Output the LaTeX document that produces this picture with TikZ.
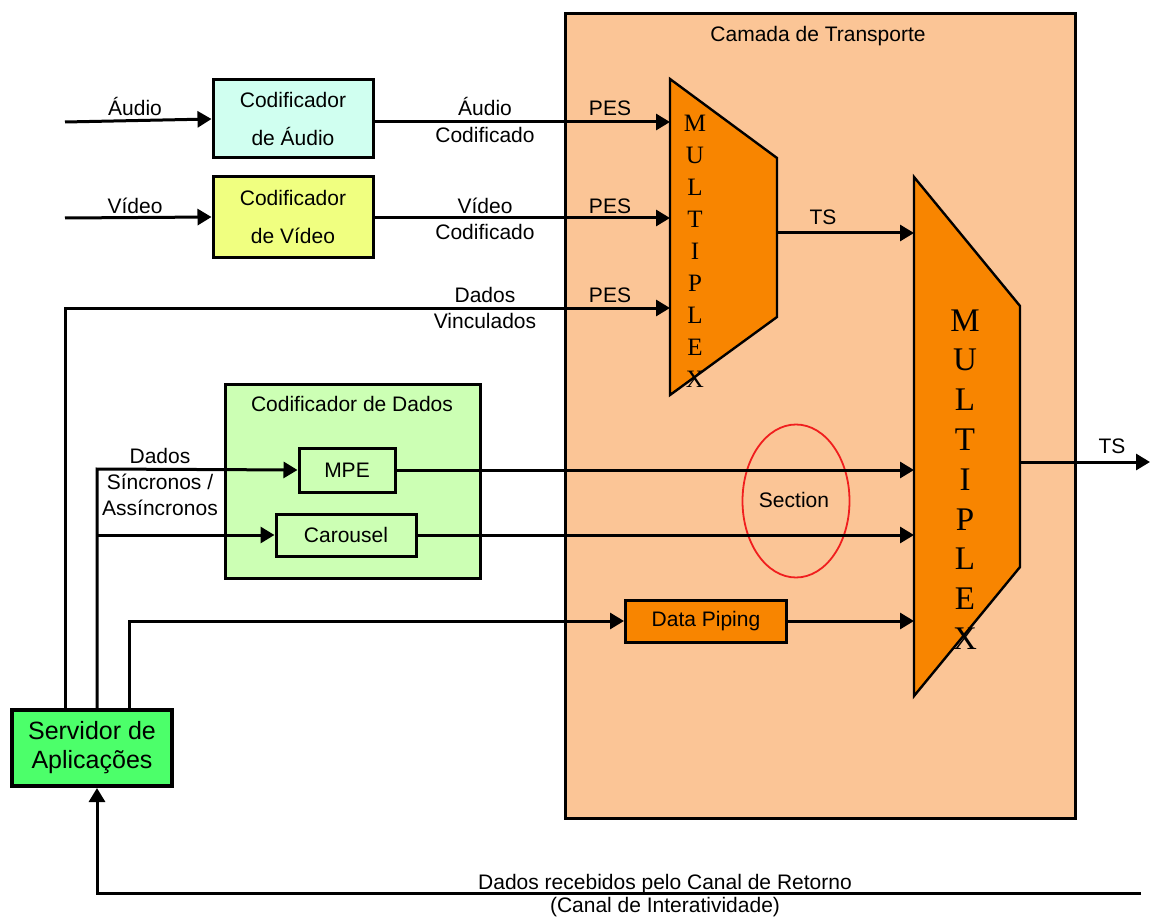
\documentclass[tikz,border=0pt]{standalone}
\usepackage{fontspec}
\setmainfont{Liberation Sans}
\newfontfamily\muxfont{Liberation Serif}
\usetikzlibrary{arrows.meta,shapes.geometric}
\definecolor{peach}{RGB}{251,197,150}
\definecolor{acyan}{RGB}{208,255,240}
\definecolor{vyellow}{RGB}{240,255,128}
\definecolor{dgreen}{RGB}{204,255,180}
\definecolor{muxorange}{RGB}{248,133,0}
\definecolor{srvgreen}{RGB}{76,255,106}
\definecolor{secred}{RGB}{240,30,30}
\newcommand\lblfont{\fontsize{21}{25}\selectfont}
\begin{document}
\begin{tikzpicture}[x=1pt,y=-1pt,
  line join=miter,
  conn/.style={line width=3pt},
  arr/.style={conn,-{Triangle[length=14pt,width=16pt]}},
  blk/.style={draw,line width=3pt,inner sep=0pt,align=center,font=\fontsize{21}{38}\selectfont},
  lbl/.style={font=\lblfont,inner sep=0pt,anchor=base},
  muxshape/.style={draw,fill=muxorange,line width=2.4pt},
  muxA/.style={font=\muxfont\fontsize{25}{25}\selectfont,inner sep=0pt,anchor=base},
  muxB/.style={font=\muxfont\fontsize{33}{33}\selectfont,inner sep=0pt,anchor=base}]
\useasboundingbox (0,0) rectangle (1150,917);

% transport layer
\node[draw,fill=peach,line width=3pt,minimum width=510,minimum height=804,inner sep=0pt] (transp) at (820,416) {};
\node[lbl] (transpt) at (818,42) {Camada de Transporte};

% encoders
\node[blk,fill=acyan,minimum width=160,minimum height=78] (aenc) at (293,119) {Codificador\\de Áudio};
\node[blk,fill=vyellow,minimum width=160,minimum height=80] (venc) at (293,217) {Codificador\\de Vídeo};

% data coder
\node[draw,fill=dgreen,line width=3pt,minimum width=255,minimum height=194,inner sep=0pt] (dcod) at (352.5,481) {};
\node[lbl] (dcodt) at (352,411) {Codificador de Dados};
\node[blk,fill=dgreen,minimum width=96,minimum height=44] (mpe) at (347,470) {MPE};
\node[blk,fill=dgreen,minimum width=140,minimum height=42] (car) at (346,535) {Carousel};

% data piping
\node[blk,fill=muxorange,minimum width=161,minimum height=42] (dp) at (706,621) {Data Piping};

% server
\node[draw,fill=srvgreen,line width=4pt,minimum width=160,minimum height=76,inner sep=0pt,align=center,font=\fontsize{25}{29}\selectfont] (srv) at (92,748) {Servidor de\\Aplicações};

% section ellipse
\node[draw=secred,line width=1.8pt,ellipse,minimum width=107,minimum height=153,inner sep=0pt] (sec) at (796,501) {};
\node[lbl,anchor=center] (sect) at (794,500) {Section};

% multiplexers
\draw[muxshape] (670,79) -- (777,158) -- (777,317) -- (670,395) -- cycle;
\draw[muxshape] (914,177) -- (1020,306) -- (1020,567) -- (914,696) -- cycle;
\foreach \l [count=\i from 0] in {M,U,L,T,I,P,L,E,X}
  \node[muxA] (ma\i) at (695,{132+31.9*\i}) {\l};
\foreach \l [count=\i from 0] in {M,U,L,T,I,P,L,E,X}
  \node[muxB] (mb\i) at (965,{331+39.8*\i}) {\l};

% coordinates
\coordinate (ain) at (65,122);
\coordinate (vin) at (65,218);
\coordinate (m1a) at (670,122);
\coordinate (m1b) at (670,218);
\coordinate (m1c) at (670,308);
\coordinate (vL) at (65,308);
\coordinate (m1o) at (777,233);
\coordinate (m2a) at (914,233);
\coordinate (sL) at (97,469);
\coordinate (sC) at (97,535);
\coordinate (pL) at (129,621);
\coordinate (m2b) at (914,470);
\coordinate (m2c) at (914,535);
\coordinate (m2d) at (914,621);
\coordinate (m2o) at (1020,462);
\coordinate (tsout) at (1150,462);
\coordinate (retR) at (1141,893);
\coordinate (retL) at (97,893);

% connectors
\draw[arr] (ain) -- (aenc.west);
\draw[arr] (vin) -- (venc.west);
\draw[arr] (aenc.east |- m1a) -- (m1a);
\draw[arr] (venc.east |- m1b) -- (m1b);
\draw[arr] (vL |- srv.north) -- (vL) -- (m1c);
\draw[arr] (m1o) -- (m2a);
\draw[arr] (sL |- srv.north) -- (sL) -- (mpe.west);
\draw[arr] (sC) -- (car.west);
\draw[arr] (pL |- srv.north) -- (pL) -- (dp.west);
\draw[arr] (mpe.east |- m2b) -- (m2b);
\draw[arr] (car.east) -- (m2c);
\draw[arr] (dp.east) -- (m2d);
\draw[arr] (m2o) -- (tsout);
\draw[arr] (retR) -- (retL) -- (retL |- srv.south);

% labels
\node[lbl] (la1) at (135,116) {Áudio};
\node[lbl] (lv1) at (135,214) {Vídeo};
\node[lbl] (la2) at (485,116) {Áudio};
\node[lbl] (la3) at (485,143) {Codificado};
\node[lbl] (lv2) at (485,214) {Vídeo};
\node[lbl] (lv3) at (485,240) {Codificado};
\node[lbl] (ld1) at (485,302) {Dados};
\node[lbl] (ld2) at (485,328) {Vinculados};
\node[lbl] (pes1) at (610,116) {PES};
\node[lbl] (pes2) at (610,214) {PES};
\node[lbl] (pes3) at (610,302) {PES};
\node[lbl] (ts1) at (823,225) {TS};
\node[lbl] (ts2) at (1112,453) {TS};
\node[lbl] (ls1) at (160,463) {Dados};
\node[lbl] (ls2) at (160,489) {Síncronos /};
\node[lbl] (ls3) at (160,515) {Assíncronos};
\node[lbl] (lr1) at (665,889) {Dados recebidos pelo Canal de Retorno};
\node[lbl] (lr2) at (665,912) {(Canal de Interatividade)};
\end{tikzpicture}
\end{document}
